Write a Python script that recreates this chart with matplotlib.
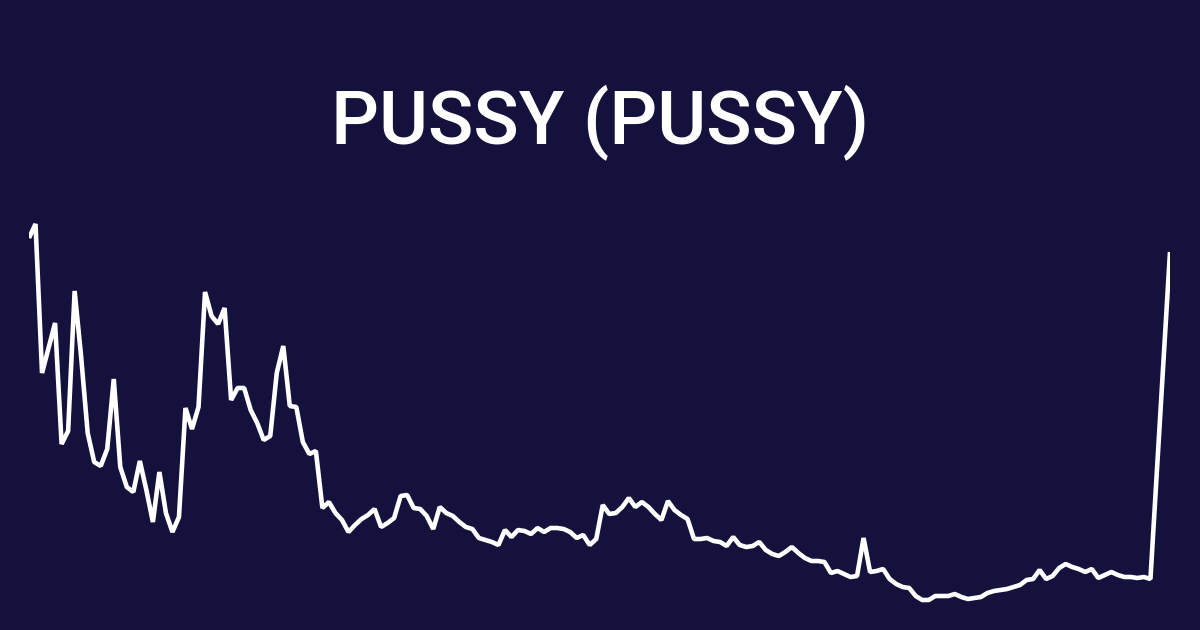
import matplotlib
matplotlib.use("Agg")
import matplotlib.pyplot as plt
import numpy as np

title = "PUSSY (PUSSY)"

# price, in units of 0.01 (arbitrary scale)
price_raw = [
    392, 406, 257, 282, 307, 186, 199, 339, 273, 197, 168, 164, 181, 251, 163,
    143, 138, 169, 140, 108, 158, 117, 98, 113, 222, 201, 223, 338, 314, 306,
    322, 230, 242, 242, 220, 207, 190, 194, 257, 284, 224, 223, 188, 176, 179,
    122, 128, 117, 110, 98, 105, 111, 115, 121, 103, 107, 112, 134, 135, 122,
    121, 114, 101, 123, 117, 114, 108, 103, 101, 92, 90, 88, 85, 100, 93,
    100, 99, 96, 102, 98, 102, 102, 101, 98, 92, 95, 85, 91, 125, 116,
    117, 123, 132, 123, 128, 123, 116, 110, 129, 120, 115, 111, 91,
    91, 92, 89, 88, 84, 93, 85, 83, 84, 88, 80, 76, 74, 78, 83,
    77, 72, 69, 69, 68, 57, 59, 56, 53, 54, 92, 58, 59, 61, 51,
    46, 43, 42, 34, 30, 30, 34, 34, 34, 36, 33, 31, 32, 33, 37,
    39, 40, 41, 43, 45, 50, 51, 60, 51, 54, 62, 66, 63, 61, 58,
    61, 52, 55, 58, 55, 53, 53, 52, 53, 51, 378,
]
price = np.array(price_raw) / 100
day = list(range(len(price) - 1)) + [len(price) + 1]

bg = "#15113d"

fig = plt.figure(figsize=(12, 6.3), dpi=100, facecolor=bg)
ax = fig.add_axes([29 / 1200, 0, 1141 / 1200, 1])
ax.set_facecolor(bg)
ax.plot(day, price, color="white", linewidth=3.3,
        solid_joinstyle="bevel", solid_capstyle="butt")
ax.set_xlim(min(day), max(day))
ax.set_ylim(0, 6.3)
ax.axis("off")

fig.text(0.5, 1 - 123 / 630, title, color="white", fontsize=54,
         family="Roboto", fontweight="medium", ha="center", va="center")

fig.savefig("out.png", dpi=100, facecolor=bg)
